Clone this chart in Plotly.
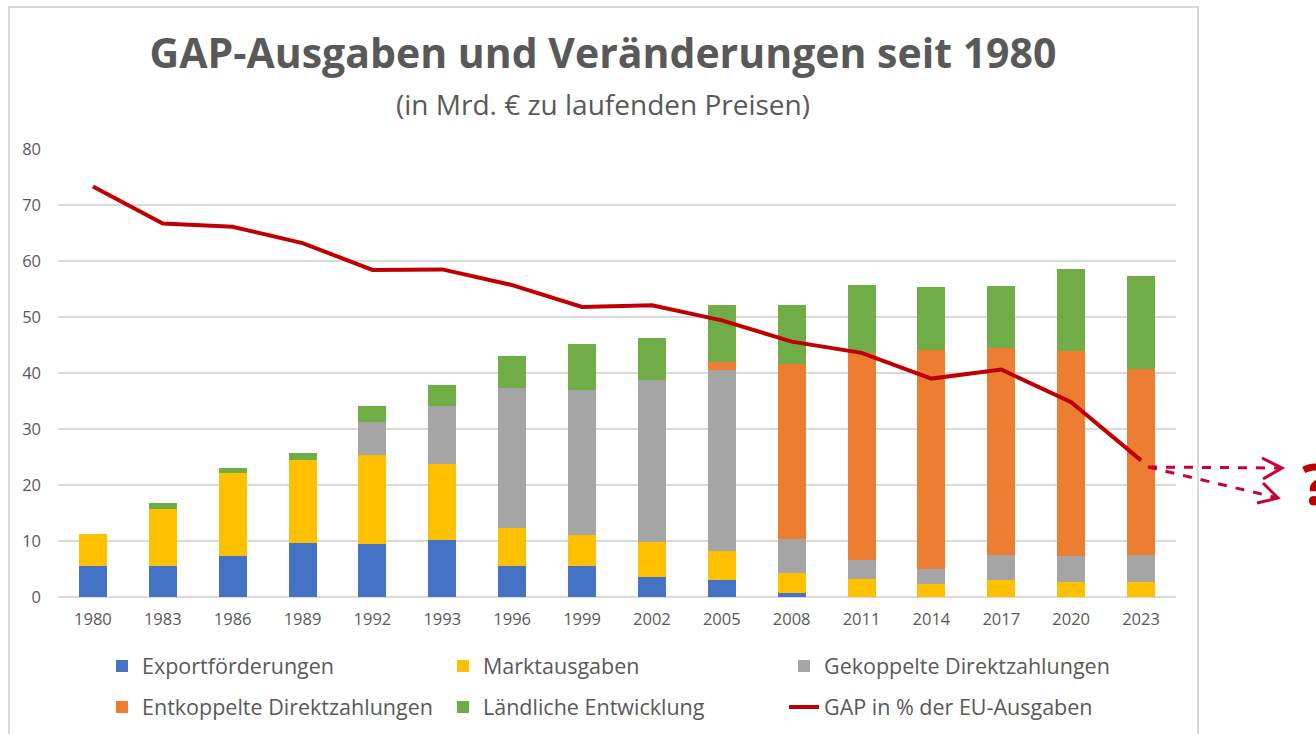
import plotly.graph_objects as go

# ---------------- data ----------------
years = ["1980", "1983", "1986", "1989", "1992", "1993", "1996", "1999",
         "2002", "2005", "2008", "2011", "2014", "2017", "2020", "2023"]

export_foerd = [5.6, 5.6, 7.3, 9.6, 9.4, 10.1, 5.6, 5.6, 3.5, 3.0, 0.8, 0, 0, 0, 0, 0]
marktausgaben = [5.6, 10.1, 14.9, 14.8, 15.9, 13.6, 6.7, 5.4, 6.4, 5.3, 3.4, 3.3, 2.4, 3.0, 2.6, 2.6]
gekoppelt = [0, 0, 0, 0, 5.9, 10.4, 25.0, 25.9, 28.9, 32.3, 6.1, 3.3, 2.6, 4.5, 4.7, 4.9]
entkoppelt = [0, 0, 0, 0, 0, 0, 0, 0, 0, 1.4, 31.3, 36.9, 39.1, 37.0, 36.7, 33.2]
laendlich = [0, 1.0, 0.8, 1.4, 2.9, 3.7, 5.8, 8.3, 7.4, 10.2, 10.6, 12.2, 11.3, 11.1, 14.6, 16.6]
gap_anteil = [73.3, 66.7, 66.1, 63.2, 58.4, 58.5, 55.7, 51.8, 52.1, 49.4, 45.6, 43.6, 39.0, 40.6, 34.8, 24.4]

y_ticks = [0, 10, 20, 30, 40, 50, 60, 70, 80]

title_text = "GAP-Ausgaben und Veränderungen seit 1980"
subtitle_text = "(in Mrd. € zu laufenden Preisen)"

# ---------------- layout geometry ----------------
W, H = 1316, 734
ML, MR, MT, MB = 58, 140, 149, 137
PW = W - ML - MR
PH = H - MT - MB


def px(x):
    return (x - ML) / PW


def py(y):
    return (H - MB - y) / PH


GRAY_TXT = "#595959"
GRID = "#D9D9D9"
FONT = "Open Sans"

series = [
    ("Exportförderungen", export_foerd, "#4472C4", "legend"),
    ("Marktausgaben", marktausgaben, "#FFC000", "legend"),
    ("Gekoppelte Direktzahlungen", gekoppelt, "#A5A5A5", "legend"),
    ("Entkoppelte Direktzahlungen", entkoppelt, "#ED7D31", "legend2"),
    ("Ländliche Entwicklung", laendlich, "#70AD47", "legend2"),
]

fig = go.Figure()
for name, vals, col, leg in series:
    fig.add_trace(go.Bar(x=years, y=vals, name=name, marker=dict(color=col, line=dict(width=0)),
                         legend=leg))

fig.add_trace(go.Scatter(x=years, y=gap_anteil, name="GAP in % der EU-Ausgaben", mode="lines",
                         line=dict(color="#C00000", width=4), legend="legend2"))

leg_common = dict(orientation="h", xanchor="left", yanchor="middle", entrywidth=296,
                  font=dict(size=21.5, color=GRAY_TXT, family=FONT), bgcolor="rgba(0,0,0,0)",
                  traceorder="normal")

fig.update_layout(
    width=W, height=H,
    margin=dict(l=ML, r=MR, t=MT, b=MB, autoexpand=False),
    paper_bgcolor="white", plot_bgcolor="white",
    barmode="stack", bargap=0.6,
    font=dict(family=FONT, color=GRAY_TXT),
    title=dict(text=title_text, xref="container", yref="container",
               x=603 / W, xanchor="center", y=1 - 54 / H, yanchor="middle",
               font=dict(size=41, color=GRAY_TXT, family=FONT, weight="bold")),
    legend=dict(x=px(102), y=py(666), **leg_common),
    legend2=dict(x=px(102), y=py(707), **leg_common),
    xaxis=dict(type="category", showgrid=False, showline=False, ticks="", automargin=False,
               tickfont=dict(size=16.5, color=GRAY_TXT), ticklabelstandoff=10),
    yaxis=dict(range=[0, 80], tickvals=y_ticks, showgrid=True, gridcolor=GRID, gridwidth=1.5,
               zeroline=True, zerolinecolor=GRID, zerolinewidth=1.5, showline=False, automargin=False,
               tickfont=dict(size=16.5, color=GRAY_TXT), ticklabelstandoff=16),
    annotations=[
        dict(text=subtitle_text, xref="paper", yref="paper", x=px(603), y=py(104),
             xanchor="center", yanchor="middle", showarrow=False,
             font=dict(size=28, color=GRAY_TXT, family=FONT)),
        dict(text="?", xref="paper", yref="paper", x=px(1316), y=py(482),
             xanchor="center", yanchor="middle", showarrow=False,
             font=dict(size=58, color="#C00000", family=FONT, weight="bold")),
    ],
)

ARROW = "#C8003C"
shapes = [
    # chart border
    dict(type="rect", xref="paper", yref="paper", x0=px(9), x1=px(1198), y0=py(745), y1=py(7),
         line=dict(color=GRID, width=2), fillcolor="rgba(0,0,0,0)", layer="below"),
    # dashed arrows
    dict(type="line", xref="paper", yref="paper", x0=px(1148), y0=py(467), x1=px(1281), y1=py(468),
         line=dict(color=ARROW, width=3, dash="dash")),
    dict(type="line", xref="paper", yref="paper", x0=px(1148), y0=py(467), x1=px(1278), y1=py(498),
         line=dict(color=ARROW, width=3, dash="dash")),
]


def chevron(tip, a, b):
    return dict(type="path", xref="paper", yref="paper",
                path=f"M {px(a[0])} {py(a[1])} L {px(tip[0])} {py(tip[1])} L {px(b[0])} {py(b[1])}",
                line=dict(color=ARROW, width=3))


shapes.append(chevron((1282, 468), (1262, 458), (1263, 479)))
shapes.append(chevron((1278, 498), (1263, 483), (1257, 503)))
fig.update_layout(shapes=shapes)

# remove the default page margin so the figure sits at the window's top-left corner
fig.write_html("out.html", config={"displayModeBar": False},
               post_script="document.body.style.margin='0';")
